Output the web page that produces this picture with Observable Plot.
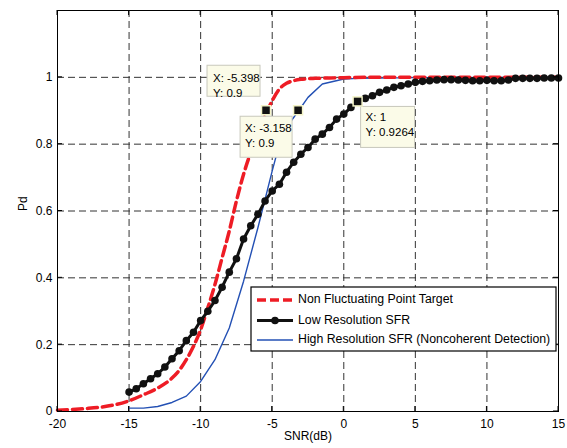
<!DOCTYPE html>
<html>
<head>
<meta charset="utf-8">
<script src="https://cdn.jsdelivr.net/npm/d3@7"></script>
<script src="https://cdn.jsdelivr.net/npm/@observablehq/plot@0.6"></script>
<style>
  html, body { margin: 0; padding: 0; background: white; }
</style>
</head>
<body>
<div id="chart"></div>
<script>
// ---- data ----
const xTicks = [-20, -15, -10, -5, 0, 5, 10, 15];
const yTicks = [0, 0.2, 0.4, 0.6, 0.8, 1];
const yTickLabels = ["0", "0.2", "0.4", "0.6", "0.8", "1"];

const seriesNames = [
  "Non Fluctuating Point Target",
  "Low Resolution SFR",
  "High Resolution SFR (Noncoherent Detection)"
];

// Non fluctuating point target (red dashed)
const redX = [-20, -19, -18, -17, -16, -15, -14, -13, -12, -11.5, -11, -10.5, -10, -9.5, -9, -8.5, -8, -7.5, -7, -6.5, -6, -5.5, -5, -4.5, -4, -3.5, -3, -2, -1, 0, 2, 5, 10, 15];
const redY = [0.004, 0.006, 0.009, 0.013, 0.02, 0.032, 0.05, 0.07, 0.10, 0.123, 0.155, 0.195, 0.245, 0.31, 0.38, 0.46, 0.54, 0.63, 0.71, 0.775, 0.83, 0.885, 0.93, 0.965, 0.982, 0.99, 0.994, 0.997, 0.998, 0.999, 1, 1, 1, 1];

// Low resolution SFR (black with dots), 0.5 dB steps
const blackX = d3.range(0, 61).map(i => -15 + i * 0.5);
const blackY = [
  0.058, 0.068, 0.083, 0.098, 0.113, 0.133, 0.158, 0.182, 0.212, 0.237,
  0.272, 0.300, 0.332, 0.372, 0.417, 0.457, 0.516, 0.556, 0.590, 0.630,
  0.660, 0.680, 0.716, 0.746, 0.770, 0.790, 0.815, 0.830, 0.850, 0.875,
  0.890, 0.910, 0.9264, 0.937, 0.945, 0.955, 0.962, 0.970, 0.975, 0.980,
  0.985, 0.988, 0.990, 0.992, 0.993, 0.993, 0.992, 0.991, 0.990, 0.990,
  0.991, 0.990, 0.990, 0.992, 0.997, 0.997, 0.997, 0.997, 0.998, 0.998, 0.998
];

// High resolution SFR (blue thin)
const blueX = [-15, -14, -13, -12, -11, -10, -9, -8, -7, -6, -5.5, -5, -4.5, -4, -3.158, -2.5, -1.5, 0, 1, 5, 10, 15];
const blueY = [0.01, 0.01, 0.015, 0.027, 0.046, 0.09, 0.155, 0.25, 0.39, 0.55, 0.635, 0.72, 0.80, 0.85, 0.90, 0.94, 0.98, 0.995, 0.997, 0.999, 1, 1];

// data tips
const tipX = [-5.398, -3.158, 1];
const tipY = [0.9, 0.9, 0.9264];
const tipLabels = [["X: -5.398", "Y: 0.9"], ["X: -3.158", "Y: 0.9"], ["X: 1", "Y: 0.9264"]];

const red = redX.map((x, i) => ({x, y: redY[i]}));
const black = blackX.map((x, i) => ({x, y: blackY[i]}));
const blue = blueX.map((x, i) => ({x, y: blueY[i]}));

const RED = "#ee1c25", BLUE = "#2350b4", BLACK = "#111";

const plot = Plot.plot({
  width: 567,
  height: 448,
  marginLeft: 57,
  marginRight: 9,
  marginTop: 10,
  marginBottom: 37,
  style: {fontFamily: "'Liberation Sans', Arial, sans-serif", fontSize: "12px", background: "white", color: "black"},
  x: {domain: [-20, 15], label: null},
  y: {domain: [0, 1.2], label: null},
  marks: [
    Plot.gridX(xTicks.slice(1, -1), {stroke: "#333", strokeOpacity: 1, strokeDasharray: "7,4"}),
    Plot.gridY(yTicks.slice(1), {stroke: "#333", strokeOpacity: 1, strokeDasharray: "7,4"}),
    Plot.line(blue, {x: "x", y: "y", stroke: BLUE, strokeWidth: 1.4}),
    Plot.line(red, {x: "x", y: "y", stroke: RED, strokeWidth: 3.5, strokeDasharray: "10,5", curve: "monotone-x"}),
    Plot.line(black, {x: "x", y: "y", stroke: BLACK, strokeWidth: 3}),
    Plot.dot(black, {x: "x", y: "y", fill: BLACK, r: 3.8}),
    Plot.frame({stroke: "black", strokeWidth: 1}),
    Plot.axisX(xTicks, {tickSize: 0, tickPadding: 8, tickFormat: d => String(d), fontSize: 12}),
    Plot.axisY(yTicks, {tickSize: 0, tickPadding: 5, tickFormat: (d, i) => yTickLabels[i], fontSize: 12}),
    Plot.text(["SNR(dB)"], {frameAnchor: "bottom", dy: 28, fontSize: 12}),
    Plot.text(["Pd"], {frameAnchor: "left", dx: -34, rotate: -90, fontSize: 12})
  ]
});

document.getElementById("chart").appendChild(plot);

// ---- post-render decorations using Plot's scales ----
const sx = plot.scale("x"), sy = plot.scale("y");
const svg = d3.select(plot);
const x0 = sx.apply(-20), x1 = sx.apply(15), yb = sy.apply(0), yt = sy.apply(1.2);

// inward tick marks (MATLAB style)
const tk = svg.append("g").attr("stroke", "black").attr("stroke-width", 1);
xTicks.forEach(t => {
  const px = sx.apply(t);
  tk.append("line").attr("x1", px).attr("x2", px).attr("y1", yb).attr("y2", yb - 5);
  tk.append("line").attr("x1", px).attr("x2", px).attr("y1", yt).attr("y2", yt + 5);
});
yTicks.forEach(t => {
  const py = sy.apply(t);
  tk.append("line").attr("x1", x0).attr("x2", x0 + 5).attr("y1", py).attr("y2", py);
  tk.append("line").attr("x1", x1).attr("x2", x1 - 5).attr("y1", py).attr("y2", py);
});

// data tips
const tipBoxes = [
  {l: -59, r: -6, t: -45, b: -14, tx: -53, ty: [-31, -16]},
  {l: -58, r: -6, t: 6, b: 47, tx: -53, ty: [19, 34]},
  {l: 3, r: 57, t: 5, b: 46, tx: 8, ty: [17, 32]}
];
const tips = svg.append("g").attr("font-family", "'Liberation Sans', Arial, sans-serif").attr("font-size", 11.5).attr("text-anchor", "start");
tipX.forEach((vx, i) => {
  const px = sx.apply(vx), py = sy.apply(tipY[i]);
  const b = tipBoxes[i];
  tips.append("rect").attr("x", px + b.l).attr("y", py + b.t).attr("width", b.r - b.l).attr("height", b.b - b.t)
    .attr("fill", "#fbfbe8").attr("stroke", "#c8c8bc").attr("stroke-width", 1);
  tipLabels[i].forEach((s, j) => {
    tips.append("text").attr("x", px + b.tx).attr("y", py + b.ty[j]).attr("dominant-baseline", "middle")
      .attr("text-anchor", "start").attr("fill", "black").text(s);
  });
  tips.append("rect").attr("x", px - 4.5).attr("y", py - 4.5).attr("width", 9).attr("height", 9)
    .attr("fill", "#111").attr("stroke", "#f4f4c8").attr("stroke-width", 1.5);
});

// legend
const lg = svg.append("g").attr("font-family", "'Liberation Sans', Arial, sans-serif").attr("font-size", 12.3).attr("text-anchor", "start");
const lx = 251, ly = 287, lw = 305, lh = 64;
lg.append("rect").attr("x", lx).attr("y", ly).attr("width", lw).attr("height", lh)
  .attr("fill", "white").attr("stroke", "black").attr("stroke-width", 1.2);
const rows = [ly + 13, ly + 33.5, ly + 53];
// red dashed
lg.append("line").attr("x1", lx + 6).attr("x2", lx + 42).attr("y1", rows[0]).attr("y2", rows[0])
  .attr("stroke", RED).attr("stroke-width", 3.5).attr("stroke-dasharray", "9,4");
// black with dot
lg.append("line").attr("x1", lx + 6).attr("x2", lx + 42).attr("y1", rows[1]).attr("y2", rows[1])
  .attr("stroke", BLACK).attr("stroke-width", 3);
lg.append("circle").attr("cx", lx + 24).attr("cy", rows[1]).attr("r", 3.8).attr("fill", BLACK);
// blue
lg.append("line").attr("x1", lx + 6).attr("x2", lx + 42).attr("y1", rows[2]).attr("y2", rows[2])
  .attr("stroke", BLUE).attr("stroke-width", 1.4);
seriesNames.forEach((s, i) => {
  lg.append("text").attr("x", lx + 47).attr("y", rows[i]).attr("dominant-baseline", "middle")
    .attr("text-anchor", "start").attr("fill", "black").text(s);
});
</script>
</body>
</html>
